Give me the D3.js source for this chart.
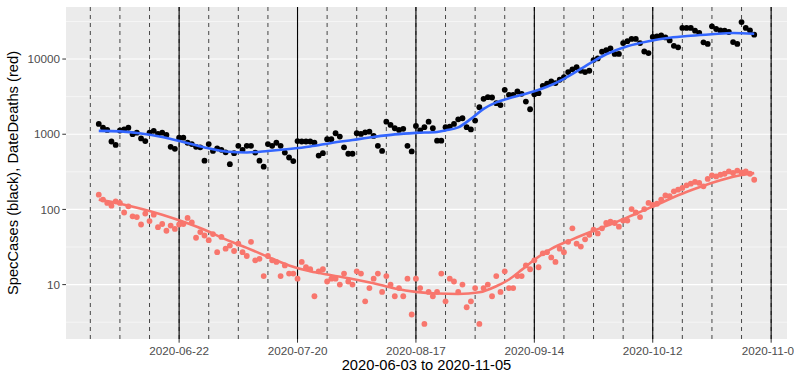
<!DOCTYPE html>
<html><head><meta charset="utf-8">
<script src="https://cdn.jsdelivr.net/npm/d3@7"></script>
<style>body{margin:0;background:#fff;} text{font-family:"Liberation Sans",Arial,sans-serif;}</style>
</head><body><svg id="c" width="794" height="380"></svg>
<script>
const startDate = "2020-06-03";
const endDate = "2020-11-05";
const cases = [1370,1220,1140,800,720,1120,1160,1220,1000,1050,880,810,1050,1110,1010,1050,980,680,640,900,900,770,740,680,670,445,740,600,650,620,575,400,560,700,620,700,700,570,445,370,740,
700,770,700,570,490,440,810,800,800,800,770,520,560,860,860,1030,930,670,550,550,1030,1010,1060,1080,950,700,600,1470,1330,1200,1140,1180,700,590,1290,1120,1240,1470,1200,820,820,1240,1260,1370,1580,1630,1240,1160,1520,2290,2960,3110,3080,2590,2440,3890,3340,3340,3700,3450,2720,2150,
3400,3520,4400,4700,5030,4790,5300,5760,6700,7300,7770,6980,6700,6980,9700,10200,12500,13100,13800,11700,11700,16300,17300,18500,18500,16300,12600,12000,19700,20000,20600,19400,17700,15000,14300,25900,25900,25900,23800,22200,16700,15900,27200,25100,24000,23800,22900,16800,15900,31000,25900,24000,21100];
const deaths = [157,135,122,112,128,122,91,110,81,79,63,88,70,85,58,64,52,61,55,63,64,77,67,42,50,45,39,47,27,43,30,33,28,35,27,24,37,21,22,13,24,
21,20,13,18,14,14,12,20,17,16,7,15,16,11,12,12,10,14,11,10,15,14,6,9,12,14,8,13,10,7,9,7,12,4,12,9,3,8,7,8,14,6,12,11,8,10,5,6,9,3,9,10,7,13,8,15,9,9,13,13,18,
16,21,17,26,27,23,20,30,27,37,56,35,32,40,46,54,48,56,66,69,66,59,71,71,101,91,79,101,122,
115,119,135,153,150,174,183,193,209,220,232,225,203,254,284,275,289,298,320,305,327,311,320,298,248];
// smooth (loess) fits: day offsets and fitted values
const caseSmoothDay = [0,5,10,15,20,25,30,35,40,45,50,55,60,65,70,75,80,82,85,88,91,94,97,100,103,106,110,115,120,125,130,135,140,145,150,155];
const caseSmoothVal = [1107,1090,1025,920,790,667,590,572,599,637,688,766,839,920,994,1041,1073,1124,1232,1600,2175,2655,3001,3342,3722,4273,5462,8017,11588,14816,17276,19231,20448,21410,22216,21740];
const deathSmoothDay = [0,5,10,15,20,25,30,35,40,45,50,55,60,65,70,75,80,85,90,94,97,100,103,107,112,117,122,127,132,137,142,147,152,155];
const deathSmoothVal = [135,119,102,85,68.5,53.6,40,30.8,23.4,18,15,13.3,11.9,10.4,8.9,8.0,7.6,7.5,7.9,9.5,11.7,15.7,21.4,29.9,40,52,66.5,87.6,115.5,154.6,197.7,245,286,304];
const yBreaks = [10,100,1000,10000];
const xBreaks = ["2020-06-22","2020-07-20","2020-08-17","2020-09-14","2020-10-12","2020-11-09"];
const weekLines = ["2020-06-01","2020-06-08","2020-06-15","2020-06-22","2020-06-29","2020-07-06","2020-07-13","2020-07-20","2020-07-27","2020-08-03","2020-08-10","2020-08-17","2020-08-24","2020-08-31","2020-09-07","2020-09-14","2020-09-21","2020-09-28","2020-10-05","2020-10-12","2020-10-19","2020-10-26","2020-11-02","2020-11-09"];
const monthLines = ["2020-06-22","2020-07-20","2020-08-17","2020-09-14","2020-10-12","2020-11-09"];
const xTitle = "2020-06-03 to 2020-11-05";
const yTitle = "SpecCases (black), DateDeaths (red)";

const parse = d3.utcParse("%Y-%m-%d");
const DAY = 86400000;
const t0 = parse(startDate), t1 = parse(endDate);
const dayDate = i => new Date(t0.getTime() + i*DAY);

const svg = d3.select("#c");
const P = {l:66, r:787, t:7, b:339};
const span = t1 - t0;
const x = d3.scaleUtc().domain([new Date(+t0 - span*0.05), new Date(+t1 + span*0.05)]).range([P.l, P.r]);
const allV = cases.concat(deaths);
const lmin = Math.log10(d3.min(allV)), lmax = Math.log10(d3.max(allV));
const ex = (lmax-lmin)*0.05;
const y = d3.scaleLog().domain([Math.pow(10,lmin-ex), Math.pow(10,lmax+ex)]).range([P.b, P.t]);

svg.append("rect").attr("x",P.l).attr("y",P.t).attr("width",P.r-P.l).attr("height",P.b-P.t).attr("fill","#EBEBEB");
const g = svg.append("g");
// minor y grid
const minorY = [0.5,1.5,2.5,3.5,4.5].map(e=>Math.pow(10,e));
g.selectAll(".ymin").data(minorY).enter().append("line")
 .attr("x1",P.l).attr("x2",P.r).attr("y1",d=>y(d)).attr("y2",d=>y(d)).attr("stroke","#fff").attr("stroke-width",0.55);
g.selectAll(".ymaj").data(yBreaks).enter().append("line")
 .attr("x1",P.l).attr("x2",P.r).attr("y1",d=>y(d)).attr("y2",d=>y(d)).attr("stroke","#fff").attr("stroke-width",1.1);
// week dashed lines
g.selectAll(".wk").data(weekLines).enter().append("line")
 .attr("x1",d=>x(parse(d))).attr("x2",d=>x(parse(d))).attr("y1",P.t).attr("y2",P.b)
 .attr("stroke","#333").attr("stroke-width",0.9).attr("stroke-dasharray","4,4");
g.selectAll(".mo").data(monthLines).enter().append("line")
 .attr("x1",d=>x(parse(d))).attr("x2",d=>x(parse(d))).attr("y1",P.t).attr("y2",P.b)
 .attr("stroke","#000").attr("stroke-width",1.1);

// points
g.selectAll(".cp").data(cases).enter().append("circle")
 .attr("cx",(d,i)=>x(dayDate(i))).attr("cy",d=>y(d)).attr("r",2.9).attr("fill","#000");
g.selectAll(".dp").data(deaths).enter().append("circle")
 .attr("cx",(d,i)=>x(dayDate(i))).attr("cy",d=>y(d)).attr("r",2.9).attr("fill","#F8766D");

// smooth lines
const line = d3.line().x(d=>x(dayDate(d[0]))).y(d=>y(d[1])).curve(d3.curveMonotoneX);
g.append("path").datum(deathSmoothDay.map((d,i)=>[d,deathSmoothVal[i]])).attr("d",line)
 .attr("fill","none").attr("stroke","#F8766D").attr("stroke-width",2.6);
g.append("path").datum(caseSmoothDay.map((d,i)=>[d,caseSmoothVal[i]])).attr("d",line)
 .attr("fill","none").attr("stroke","#3366FF").attr("stroke-width",2.6);

// axes
const ax = svg.append("g");
yBreaks.forEach(v=>{
  ax.append("line").attr("x1",P.l-3.7).attr("x2",P.l).attr("y1",y(v)).attr("y2",y(v)).attr("stroke","#333").attr("stroke-width",1);
  ax.append("text").attr("x",P.l-6).attr("y",y(v)).attr("dy","0.35em").attr("text-anchor","end")
    .attr("font-size","11.7px").attr("fill","#4D4D4D").text(v);
});
xBreaks.forEach(s=>{
  const xx = x(parse(s));
  ax.append("line").attr("x1",xx).attr("x2",xx).attr("y1",P.b).attr("y2",P.b+3.7).attr("stroke","#333").attr("stroke-width",1);
  ax.append("text").attr("x",xx).attr("y",P.b+15.5).attr("text-anchor","middle")
    .attr("font-size","11.7px").attr("fill","#4D4D4D").text(s);
});
svg.append("text").attr("x",(P.l+P.r)/2).attr("y",370).attr("text-anchor","middle")
 .attr("font-size","14.7px").attr("fill","#000").text(xTitle);
svg.append("text").attr("transform",`translate(18,${(P.t+P.b)/2}) rotate(-90)`).attr("text-anchor","middle")
 .attr("font-size","14.7px").attr("fill","#000").text(yTitle);
</script></body></html>
